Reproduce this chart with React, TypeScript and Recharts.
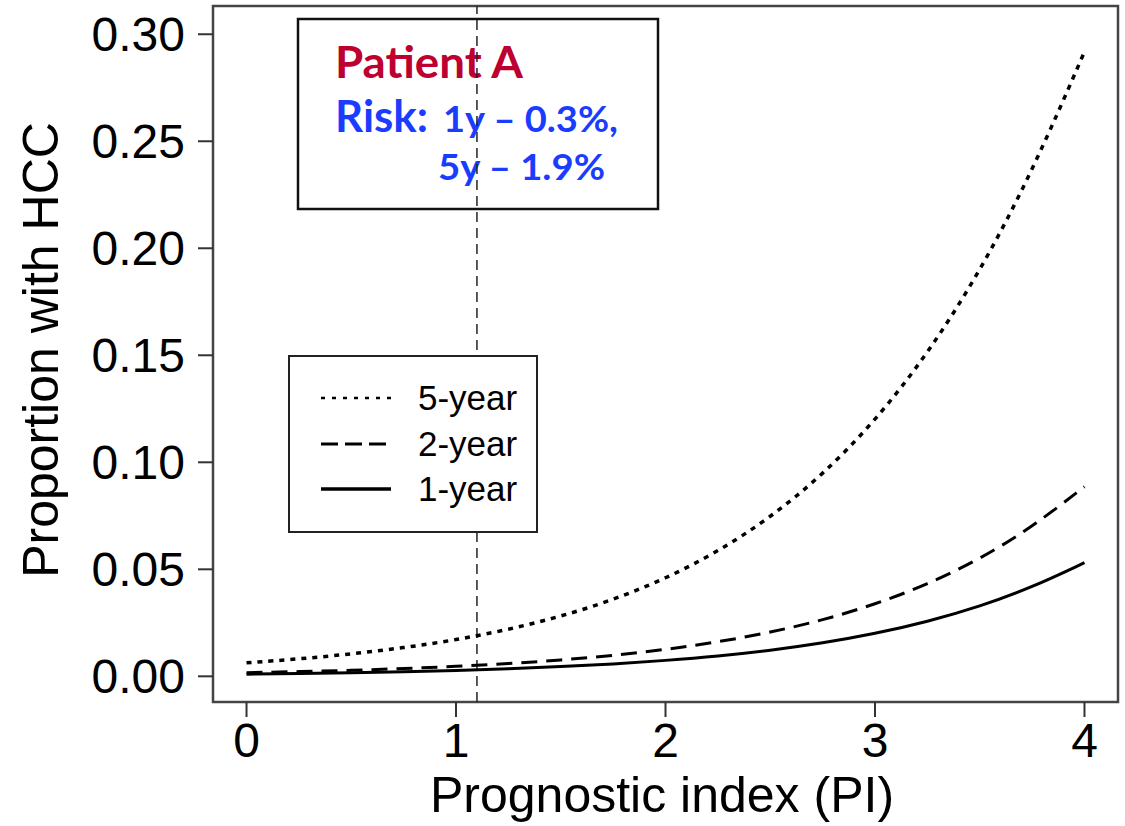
import React from 'react';
import {
  LineChart,
  Line,
  XAxis,
  YAxis,
  ReferenceLine,
  ReferenceArea,
  Legend,
  Customized,
} from 'recharts';

// Prognostic index grid
const piValues = [0, 0.25, 0.5, 0.75, 1, 1.25, 1.5, 1.75, 2, 2.25, 2.5, 2.75, 3, 3.25, 3.5, 3.75, 4];

// Cumulative proportion with HCC by horizon
const oneYear = [0.001, 0.0013, 0.0016, 0.0021, 0.0027, 0.0035, 0.0045, 0.0057, 0.0074, 0.0094, 0.0121, 0.0155, 0.0199, 0.0255, 0.0326, 0.0416, 0.0531];
const twoYear = [0.0017, 0.0022, 0.0028, 0.0036, 0.0046, 0.0059, 0.0076, 0.0097, 0.0125, 0.016, 0.0205, 0.0262, 0.0336, 0.0429, 0.0547, 0.0697, 0.0886];
const fiveYear = [0.0063, 0.0081, 0.0104, 0.0133, 0.017, 0.0218, 0.0279, 0.0357, 0.0456, 0.0582, 0.0741, 0.0941, 0.1192, 0.1504, 0.1888, 0.2356, 0.2918];

const xTicks = [0, 1, 2, 3, 4];
const yTicks = [0, 0.05, 0.1, 0.15, 0.2, 0.25, 0.3];
const xDomain: [number, number] = [-0.16, 4.16];
const yDomain: [number, number] = [-0.012, 0.3132];

const patientPI = 1.1;
const patientName = 'Patient A';
const riskLabel = 'Risk:';
const riskLine1 = '1y \u2013 0.3%,';
const riskLine2 = '5y \u2013 1.9%';

const legendItems = [
  { label: '5-year', dash: '4 7', width: 2.5 },
  { label: '2-year', dash: '17 7', width: 3 },
  { label: '1-year', dash: undefined as string | undefined, width: 3.5 },
];

const data = piValues.map((pi, i) => ({
  pi,
  y1: oneYear[i],
  y2: twoYear[i],
  y5: fiveYear[i],
}));

const FONT = '"Liberation Sans", Arial, Helvetica, sans-serif';
const BOX_FONT = 'Lato, "Open Sans", sans-serif';
const RED = '#BE0030';
const BLUE = '#1A3CFF';

const boxText = {
  fontFamily: BOX_FONT,
  fontWeight: 700,
  fontVariantLigatures: 'none' as const,
  lengthAdjust: 'spacingAndGlyphs' as const,
};

const Overlay = () => (
  <g>
    {/* axis titles */}
    <text x={662} y={812} textAnchor="middle" fontFamily={FONT} fontSize={50} fill="#000">
      Prognostic index (PI)
    </text>
    <text
      transform="translate(58,350) rotate(-90)"
      textAnchor="middle"
      fontFamily={FONT}
      fontSize={50}
      fill="#000"
    >
      Proportion with HCC
    </text>
    {/* patient annotation box */}
    <rect x={298} y={19} width={360} height={190} fill="#fff" stroke="#111" strokeWidth={2.5} />
    <text x={335} y={78} fontSize={43} fill={RED} textLength={188} {...boxText}>
      {patientName}
    </text>
    <text x={335} y={132} fontSize={43} fill={BLUE} textLength={93} {...boxText}>
      {riskLabel}
    </text>
    <text x={443} y={132} fontSize={36} fill={BLUE} textLength={175} {...boxText}>
      {riskLine1}
    </text>
    <text x={438} y={180} fontSize={37} fill={BLUE} textLength={167} {...boxText}>
      {riskLine2}
    </text>
  </g>
);

const LegendBox = () => (
  <div
    style={{
      boxSizing: 'border-box',
      width: 250,
      height: 178,
      border: '2px solid #222',
      background: '#fff',
      position: 'relative',
    }}
  >
    {legendItems.map((item, i) => (
      <div
        key={item.label}
        style={{
          position: 'absolute',
          left: 30,
          top: 41 + i * 45.5 - 22,
          height: 44,
          display: 'flex',
          alignItems: 'center',
        }}
      >
        <svg width={72} height={10} style={{ display: 'block' }}>
          <line
            x1={1}
            y1={5}
            x2={71}
            y2={5}
            stroke="#000"
            strokeWidth={item.width}
            strokeDasharray={item.dash}
          />
        </svg>
        <span
          style={{
            marginLeft: 26,
            fontFamily: FONT,
            fontSize: 35,
            lineHeight: '44px',
            color: '#000',
          }}
        >
          {item.label}
        </span>
      </div>
    ))}
  </div>
);

export default function App() {
  return (
    <div style={{ position: 'absolute', left: 0, top: 0, background: '#fff' }}>
      <LineChart
        width={1125}
        height={826}
        data={data}
        margin={{ top: 6, right: 7, bottom: 0, left: 0 }}
      >
        <XAxis
          dataKey="pi"
          type="number"
          domain={xDomain}
          ticks={xTicks}
          allowDataOverflow
          height={124}
          axisLine={false}
          tickSize={15}
          tickMargin={6}
          tickLine={{ stroke: '#333', strokeWidth: 2 }}
          tick={{ fontSize: 48, fill: '#000', fontFamily: FONT }}
        />
        <YAxis
          type="number"
          domain={yDomain}
          ticks={yTicks}
          allowDataOverflow
          width={213}
          axisLine={false}
          tickSize={15}
          tickMargin={13}
          tickLine={{ stroke: '#333', strokeWidth: 2 }}
          tick={{ fontSize: 48, fill: '#000', fontFamily: FONT }}
          tickFormatter={(v: number) => v.toFixed(2)}
        />
        <ReferenceLine
          x={patientPI}
          stroke="#222"
          strokeWidth={1.5}
          strokeDasharray="10 6"
        />
        <Line
          dataKey="y5"
          type="basis"
          stroke="#000"
          strokeWidth={3.5}
          strokeDasharray="5 6"
          dot={false}
          activeDot={false}
          isAnimationActive={false}
        />
        <Line
          dataKey="y2"
          type="basis"
          stroke="#000"
          strokeWidth={3}
          strokeDasharray="16 9"
          dot={false}
          activeDot={false}
          isAnimationActive={false}
        />
        <Line
          dataKey="y1"
          type="basis"
          stroke="#000"
          strokeWidth={3}
          dot={false}
          activeDot={false}
          isAnimationActive={false}
        />
        <Customized component={Overlay} />
        <ReferenceArea
          x1={xDomain[0]}
          x2={xDomain[1]}
          y1={yDomain[0]}
          y2={yDomain[1]}
          fill="none"
          fillOpacity={0}
          stroke="#444"
          strokeWidth={2.5}
        />
        <Legend
          layout="vertical"
          align="center"
          verticalAlign="middle"
          wrapperStyle={{ left: 288, top: 355, width: 250, height: 178, margin: 0 }}
          content={() => <LegendBox />}
        />
      </LineChart>
    </div>
  );
}
